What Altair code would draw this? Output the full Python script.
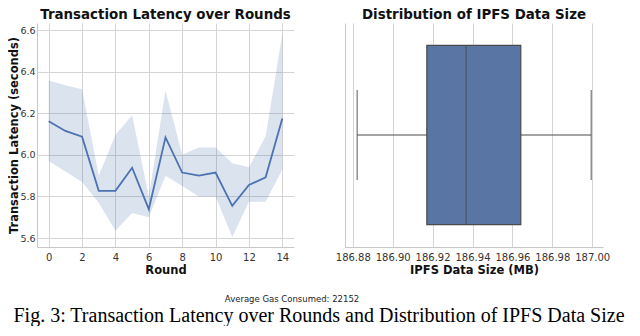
import altair as alt
import pandas as pd

# ---- data ----
rounds = list(range(15))
latency_mean = [6.162, 6.115, 6.087, 5.827, 5.827, 5.938, 5.739, 6.084, 5.915, 5.900, 5.915, 5.755, 5.855, 5.892, 6.175]
latency_lower = [5.970, 5.920, 5.870, 5.770, 5.635, 5.720, 5.700, 5.900, 5.850, 5.800, 5.800, 5.605, 5.775, 5.775, 5.930]
latency_upper = [6.357, 6.335, 6.315, 5.900, 6.095, 6.190, 5.800, 6.310, 6.000, 6.035, 6.035, 5.960, 5.940, 6.090, 6.580]

ipfs_category = ["IPFS"]
ipfs_min = [186.8822]
ipfs_q1 = [186.9171]
ipfs_median = [186.9368]
ipfs_q3 = [186.9642]
ipfs_max = [186.9995]

round_ticks = [0, 2, 4, 6, 8, 10, 12, 14]
latency_ticks = [5.6, 5.8, 6.0, 6.2, 6.4, 6.6]
ipfs_ticks = [186.88, 186.90, 186.92, 186.94, 186.96, 186.98, 187.00]

footer_note = ["Average Gas Consumed: 22152"]
caption = ["Fig. 3: Transaction Latency over Rounds and Distribution of IPFS Data Size"]

# ---- tables ----
lat_df = pd.DataFrame({"Round": rounds, "mean": latency_mean,
                       "lower": latency_lower, "upper": latency_upper})
box_df = pd.DataFrame({"cat": ipfs_category, "min": ipfs_min, "q1": ipfs_q1,
                       "median": ipfs_median, "q3": ipfs_q3, "max": ipfs_max})

BLUE = "#4c72b0"
BOX = "#5975a4"
EDGE = "#4a4a4a"
GRID = "#d4d4d4"
SPINE = "#c8c8c8"
FONT = "DejaVu Sans"

axis_common = dict(grid=True, gridColor=GRID, gridWidth=1, domainColor=SPINE,
                   domainWidth=1, ticks=False, labelFont=FONT, labelColor="#333333",
                   titleFont=FONT, titleFontWeight="bold", titleColor="#111111",
                   labelOverlap=False)

# ---- left panel ----
xs = alt.Scale(domain=[-0.7, 14.7], nice=False, zero=False)
ys = alt.Scale(domain=[5.557, 6.634], nice=False, zero=False)

x_round = alt.X("Round:Q", scale=xs,
                axis=alt.Axis(values=round_ticks, format="d", title="Round",
                              labelFontSize=10, labelPadding=5, titleFontSize=11.5,
                              titlePadding=2, **axis_common))
y_axis = alt.Axis(values=latency_ticks, format=".1f",
                  title="Transaction Latency (seconds)",
                  labelFontSize=9.5, labelPadding=2, titleFontSize=11.5,
                  titlePadding=0, **axis_common)

base = alt.Chart(lat_df).encode(x=x_round)
band = base.mark_area(color=BLUE, opacity=0.2).encode(
    y=alt.Y("lower:Q", scale=ys, axis=y_axis), y2="upper:Q")
line = base.mark_line(color=BLUE, strokeWidth=1.8).encode(
    y=alt.Y("mean:Q", scale=ys, axis=y_axis))

left = alt.layer(band, line).properties(
    width=257, height=224,
    title=alt.Title("Transaction Latency over Rounds"))

# ---- right panel ----
xr = alt.Scale(domain=[186.8761, 187.0054], nice=False, zero=False)
yb = alt.Scale(domain=ipfs_category, paddingInner=0.2, paddingOuter=0.1)

ycat = alt.Y("cat:N", scale=yb,
             axis=alt.Axis(labels=False, ticks=False, title=None, grid=False,
                           domain=True, domainColor=SPINE))
x_ipfs_axis = alt.Axis(values=ipfs_ticks, format=".2f", title="IPFS Data Size (MB)",
                       labelFontSize=10, labelPadding=5, titleFontSize=11.5,
                       titlePadding=2, **axis_common)

rb = alt.Chart(box_df)
whisk_lo = rb.mark_rule(color=EDGE, strokeWidth=1.2).encode(
    x=alt.X("min:Q", scale=xr, axis=x_ipfs_axis), x2="q1:Q", y=ycat)
whisk_hi = rb.mark_rule(color=EDGE, strokeWidth=1.2).encode(
    x=alt.X("q3:Q", scale=xr, axis=x_ipfs_axis), x2="max:Q", y=ycat)
box = rb.mark_bar(color=BOX, stroke=EDGE, strokeWidth=1.2).encode(
    x=alt.X("q1:Q", scale=xr, axis=x_ipfs_axis), x2="q3:Q", y=ycat)
median = rb.mark_tick(color=EDGE, size=179, thickness=1.3).encode(
    x=alt.X("median:Q", scale=xr, axis=x_ipfs_axis), y=ycat)
cap_lo = rb.mark_tick(color=EDGE, size=90, thickness=1.3).encode(
    x=alt.X("min:Q", scale=xr, axis=x_ipfs_axis), y=ycat)
cap_hi = rb.mark_tick(color=EDGE, size=90, thickness=1.3).encode(
    x=alt.X("max:Q", scale=xr, axis=x_ipfs_axis), y=ycat)

right = alt.layer(whisk_lo, whisk_hi, box, median, cap_lo, cap_hi).properties(
    width=258, height=224,
    title=alt.Title("Distribution of IPFS Data Size"))

top = alt.hconcat(left, right, spacing=41)

# ---- footer (its origin lines up with the left plot's left edge) ----
note = alt.Chart(pd.DataFrame({"t": footer_note})).mark_text(
    font=FONT, fontSize=8.5, color="#222222", align="center", baseline="middle"
).encode(text="t:N", x=alt.value(255), y=alt.value(22.5))
cap = alt.Chart(pd.DataFrame({"t": caption})).mark_text(
    font="Liberation Serif", fontSize=20, color="#000000", align="center",
    baseline="bottom"
).encode(text="t:N", x=alt.value(282), y=alt.value(50))
footer = alt.layer(note, cap).properties(width=540, height=40)

chart = alt.vconcat(top, footer, spacing=0).properties(
    padding={"left": 0, "top": 0, "right": 0, "bottom": 0}
).configure_view(stroke=None).configure_title(
    font=FONT, fontSize=13.4, fontWeight="bold", color="#111111",
    anchor="middle", offset=1.5
).configure_concat(spacing=0)

chart.save("out.html", embed_options={"renderer": "svg", "actions": False})
